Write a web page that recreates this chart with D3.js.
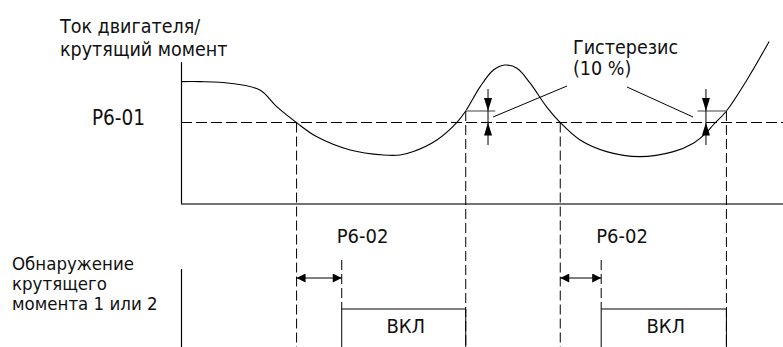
<!DOCTYPE html>
<html><head><meta charset="utf-8">
<script src="https://cdn.jsdelivr.net/npm/d3@7/dist/d3.min.js"></script>
<style>
html,body{margin:0;padding:0;background:#fff;}
svg{display:block;}
text{font-family:"DejaVu Sans Condensed","DejaVu Sans",sans-serif;font-stretch:condensed;fill:#111;}
</style></head>
<body>
<script>
// ---- data ----
const curveT = [0, 3.2, 8.1, 13.1, 15.9, 19.2, 22.5, 28.1, 33.6, 36.4, 38.6, 42.5, 45.8, 47.3, 49.7, 51.9, 53.8, 55.8, 58.0, 60.7, 63.0, 66.3, 70.7, 76.2, 81.8, 85.1, 87.2, 88.4, 90.6, 94.0, 97.7];
const curveV = [61.2, 61.2, 60.4, 57, 48.7, 40.7, 33.7, 27, 24.5, 24.5, 26.2, 32, 40.7, 46.5, 58.7, 67, 69.5, 67.9, 60.4, 48.7, 40.7, 32, 26.2, 23.7, 26.2, 30.4, 35.4, 39.5, 46.5, 62, 81.2];
const thresholdLevel = 40.75;      // P6-01
const hysteresisLevel = 46.5;      // P6-01 + 10 %
const belowT = [19.2, 63.0];       // curve falls below P6-01
const onT = [26.7, 69.8];          // after P6-02 delay -> ВКЛ
const offT = [47.3, 90.6];         // curve rises above hysteresis level
const hystArrowT = [51.0, 87.2];
const hystTickT = [[47.3, 52.2], [85.8, 90.6]];
const labels = {
  yTitle: ["Ток двигателя/", "крутящий момент"],
  threshold: "P6-01",
  hyst: ["Гистерезис", "(10 %)"],
  delay: "P6-02",
  on: "ВКЛ",
  output: ["Обнаружение", "крутящего", "момента 1 или 2"]
};

// ---- drawing ----
const W = 783, H = 347;
const svg = d3.select("body").append("svg").attr("width", W).attr("height", H);
const x = d3.scaleLinear().domain([0, 100]).range([181, 783]);
const y = d3.scaleLinear().domain([0, 100]).range([204, 4]);
const yb = d3.scaleLinear().domain([0, 1]).range([347, 309]);

const defs = svg.append("defs");
defs.append("marker").attr("id", "ah").attr("viewBox", "0 0 10 10")
  .attr("refX", 10).attr("refY", 5).attr("markerWidth", 13).attr("markerHeight", 9)
  .attr("markerUnits", "userSpaceOnUse").attr("orient", "auto-start-reverse")
  .append("path").attr("d", "M0,0L10,5L0,10Z").attr("fill", "#000");

// axes
svg.append("line").attr("x1", x(0) + 0.5).attr("x2", x(0) + 0.5).attr("y1", 62).attr("y2", y(0))
  .attr("stroke", "#000").attr("stroke-width", 1.2);
svg.append("line").attr("x1", x(0)).attr("x2", W).attr("y1", y(0)).attr("y2", y(0))
  .attr("stroke", "#444").attr("stroke-width", 1.6);
svg.append("line").attr("x1", x(0) + 0.5).attr("x2", x(0) + 0.5).attr("y1", 269).attr("y2", H)
  .attr("stroke", "#000").attr("stroke-width", 1.2);

// threshold dashed
svg.append("line").attr("x1", x(0)).attr("x2", W).attr("y1", y(thresholdLevel)).attr("y2", y(thresholdLevel))
  .attr("stroke", "#000").attr("stroke-width", 1).attr("stroke-dasharray", "11,4");

// curve
const pts = curveT.map((t, i) => [x(t), y(curveV[i])]);
svg.append("path").attr("d", d3.line().curve(d3.curveCatmullRom.alpha(0.5))(pts))
  .attr("fill", "none").attr("stroke", "#000").attr("stroke-width", 1.1);

// hysteresis ticks (grey)
hystTickT.forEach(([a, b]) => {
  svg.append("line").attr("x1", x(a)).attr("x2", x(b)).attr("y1", y(hysteresisLevel)).attr("y2", y(hysteresisLevel))
    .attr("stroke", "#888").attr("stroke-width", 1.6);
});

// vertical dashed lines
belowT.forEach(t => svg.append("line").attr("x1", x(t)).attr("x2", x(t)).attr("y1", y(thresholdLevel)).attr("y2", H)
  .attr("stroke", "#000").attr("stroke-width", 1).attr("stroke-dasharray", "10,4"));
offT.forEach(t => svg.append("line").attr("x1", x(t)).attr("x2", x(t)).attr("y1", y(hysteresisLevel)).attr("y2", H)
  .attr("stroke", "#000").attr("stroke-width", 1).attr("stroke-dasharray", "10,4"));
onT.forEach(t => svg.append("line").attr("x1", x(t)).attr("x2", x(t)).attr("y1", 260).attr("y2", yb(1))
  .attr("stroke", "#000").attr("stroke-width", 1).attr("stroke-dasharray", "10,4"));

// hysteresis arrows
hystArrowT.forEach(t => {
  const cx = x(t), yH = y(hysteresisLevel), yT = y(thresholdLevel);
  svg.append("line").attr("x1", cx).attr("x2", cx).attr("y1", 89).attr("y2", 145)
    .attr("stroke", "#000").attr("stroke-width", 1);
  svg.append("path").attr("d", `M${cx - 4},${yH - 13}L${cx + 4},${yH - 13}L${cx},${yH}Z`).attr("fill", "#000");
  svg.append("path").attr("d", `M${cx - 4},${yT + 13}L${cx + 4},${yT + 13}L${cx},${yT}Z`).attr("fill", "#000");
});

// leader lines
svg.append("line").attr("x1", 493).attr("y1", 117).attr("x2", 567).attr("y2", 86).attr("stroke", "#000").attr("stroke-width", 1);
svg.append("line").attr("x1", 627).attr("y1", 87).attr("x2", 693).attr("y2", 117).attr("stroke", "#000").attr("stroke-width", 1);

// delay arrows
belowT.forEach((t, i) => {
  svg.append("line").attr("x1", x(t)).attr("x2", x(onT[i])).attr("y1", 278).attr("y2", 278)
    .attr("stroke", "#000").attr("stroke-width", 1.2)
    .attr("marker-start", "url(#ah)").attr("marker-end", "url(#ah)");
  svg.append("text").attr("x", x(onT[i]) - 5).attr("y", 243).attr("font-size", 20).text(labels.delay);
});

// pulses
onT.forEach((t, i) => {
  const p = d3.path();
  p.moveTo(x(t), yb(0)); p.lineTo(x(t), yb(1)); p.lineTo(x(offT[i]), yb(1)); p.lineTo(x(offT[i]), yb(0));
  svg.append("path").attr("d", p.toString()).attr("fill", "none").attr("stroke", "#000").attr("stroke-width", 1);
  svg.append("text").attr("x", (x(t) + x(offT[i])) / 2 + 2).attr("y", 333).attr("text-anchor", "middle")
    .attr("font-size", 20).text(labels.on);
});

// texts
svg.append("text").attr("x", 60).attr("y", 32.5).attr("font-size", 19.5).text(labels.yTitle[0]);
svg.append("text").attr("x", 60).attr("y", 55.5).attr("font-size", 19.5).text(labels.yTitle[1]);
svg.append("text").attr("x", 92).attr("y", y(thresholdLevel) + 2).attr("font-size", 20.5).text(labels.threshold);
svg.append("text").attr("x", 573).attr("y", 54).attr("font-size", 19.5).text(labels.hyst[0]);
svg.append("text").attr("x", 573).attr("y", 75).attr("font-size", 19.5).text(labels.hyst[1]);
labels.output.forEach((s, i) => svg.append("text").attr("x", 12).attr("y", 270 + i * 20).attr("font-size", 18.5).text(s));
</script>
</body></html>
